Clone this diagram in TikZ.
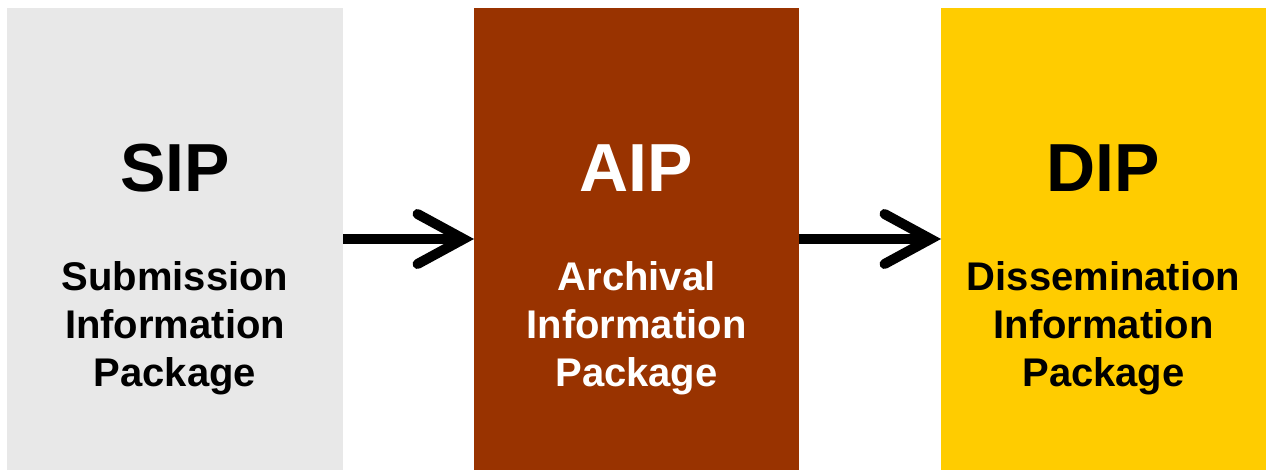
\documentclass[tikz,border=0pt]{standalone}
\usepackage{fontspec}
\setmainfont{Liberation Sans}
\usepackage{xcolor}
\usetikzlibrary{arrows.meta}
\definecolor{sipgray}{HTML}{E8E8E8}
\definecolor{aiprust}{HTML}{993300}
\definecolor{dipgold}{HTML}{FFCC00}
\tikzset{
  pkg/.style={inner sep=0pt, outer sep=0pt, minimum height=462pt},
  pkgtitle/.style={anchor=base, font=\fontsize{68}{80}\selectfont\bfseries},
  pkgdesc/.style={anchor=base, align=center, font=\fontsize{40}{48}\selectfont\bfseries},
  flow/.style={line width=10pt, -{Straight Barb[length=46pt, width=50pt, line cap=round, line join=miter]}}
}
\begin{document}
\begin{tikzpicture}[x=1pt,y=-1pt]
\useasboundingbox (0,0) rectangle (1269,470);
%Pakete
\node[pkg, fill=sipgray, minimum width=336pt] (sip) at (175,239) {};
\node[pkg, fill=aiprust, minimum width=325pt] (aip) at (636.5,239) {};
\node[pkg, fill=dipgold, minimum width=325pt] (dip) at (1103.5,239) {};
%Pfeile
\draw[flow] (sip) -- (aip);
\draw[flow] (aip) -- (dip);
%Text
\node[pkgtitle] (siptitle) at (175,192) {SIP};
\node[pkgtitle, white] (aiptitle) at (636.5,192) {AIP};
\node[pkgtitle] (diptitle) at (1103.5,192) {DIP};
\node[pkgdesc] (sipdesc) at (175,386) {Submission\\Information\\Package};
\node[pkgdesc, white] (aipdesc) at (636.5,386) {Archival\\Information\\Package};
\node[pkgdesc] (dipdesc) at (1103.5,386) {Dissemination\\Information\\Package};
\end{tikzpicture}
\end{document}
